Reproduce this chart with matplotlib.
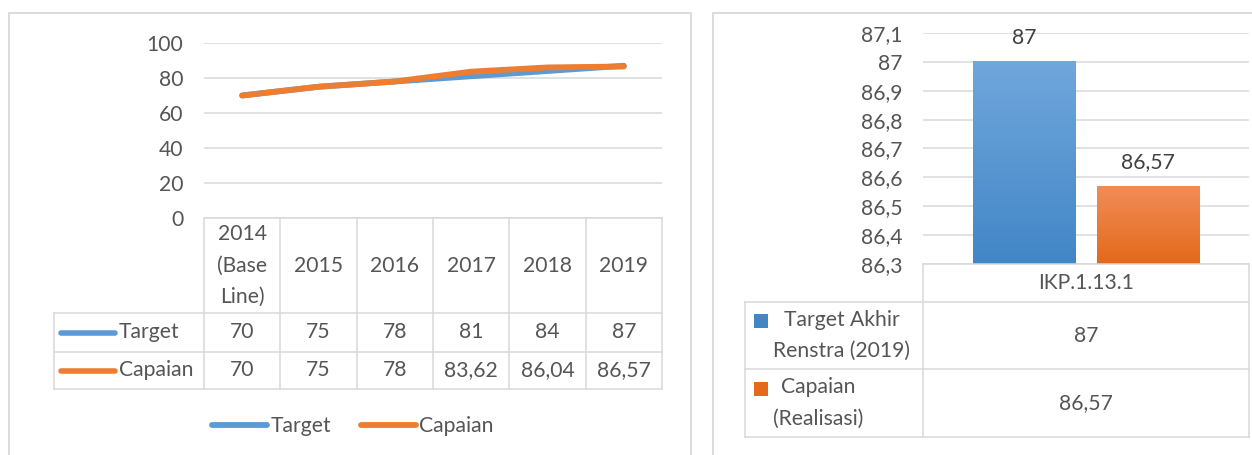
"""Target vs capaian: line chart with data table and IKP bar chart with data table."""

import numpy as np
import matplotlib
matplotlib.use('Agg')
import matplotlib.pyplot as plt
from matplotlib.lines import Line2D
from matplotlib.patches import Rectangle
from matplotlib.colors import LinearSegmentedColormap

# ---- data ----
years = ['2014\n(Base\nLine)', '2015', '2016', '2017', '2018', '2019']
target = [70, 75, 78, 81, 84, 87]
capaian = [70, 75, 78, 83.62, 86.04, 86.57]
line_names = ['Target', 'Capaian']
line_ticks = [0, 20, 40, 60, 80, 100]

ikp_category = 'IKP.1.13.1'
ikp_names = ['Target Akhir\nRenstra (2019)', 'Capaian\n(Realisasi)']
ikp_values = [87, 86.57]
ikp_ticks = [86.3, 86.4, 86.5, 86.6, 86.7, 86.8, 86.9, 87.0, 87.1]

# ---- style ----
W, H = 1252, 455
BLUE = '#5B9BD5'
ORANGE = '#ED7D31'
GRID = '#D9D9D9'
TXT = '#555555'
FS = 15.2
LS2 = 1.7  # line spacing for wrapped labels

plt.rcParams['font.family'] = ['Lato', 'DejaVu Sans']
plt.rcParams['text.color'] = TXT


def fx(px):
    return px / W


def fy(py):
    return 1 - py / H


def fmt(v):
    return f'{round(v, 2):g}'.replace('.', ',')


def hline(fig, x0, x1, y):
    fig.add_artist(Line2D([fx(x0), fx(x1)], [fy(y), fy(y)], color=GRID, lw=1.1))


def vline(fig, x, y0, y1):
    fig.add_artist(Line2D([fx(x), fx(x)], [fy(y0), fy(y1)], color=GRID, lw=1.1))


def style_axes(ax):
    for s in ax.spines.values():
        s.set_visible(False)
    ax.tick_params(length=0, labelsize=FS, labelcolor=TXT, pad=15)
    ax.set_xticks([])
    ax.yaxis.grid(True, color=GRID, lw=1.1)
    ax.set_axisbelow(True)


fig = plt.figure(figsize=(W / 100, H / 100), dpi=100)

# panel frames
fig.add_artist(Rectangle((fx(9), fy(480)), fx(691) - fx(9), fy(13) - fy(480),
                         fill=False, edgecolor=GRID, lw=1.3))
fig.add_artist(Rectangle((fx(713), fy(480)), fx(1280) - fx(713), fy(13) - fy(480),
                         fill=False, edgecolor=GRID, lw=1.3))

# ---- left: line chart ----
LX0, LX1, LY0, LY1 = 204, 662, 43, 218
ax1 = fig.add_axes([fx(LX0), fy(LY1), fx(LX1) - fx(LX0), fy(LY0) - fy(LY1)])
n = len(years)
xs = np.arange(n)
l1, = ax1.plot(xs, target, color=BLUE, lw=4.2, solid_capstyle='round', zorder=3)
l2, = ax1.plot(xs, capaian, color=ORANGE, lw=4.2, solid_capstyle='round', zorder=4)
ax1.set_xlim(-0.5, n - 0.5)
ax1.set_ylim(0, 100)
ax1.set_yticks(line_ticks)
style_axes(ax1)

# data table under line chart
col_w = (LX1 - LX0) / n
edges = [LX0 + i * col_w for i in range(n + 1)]
centers = [LX0 + (i + 0.5) * col_w for i in range(n)]
head_bot, row1_bot, row2_bot = 313, 352, 389
label_x0 = 54
for e in edges:
    vline(fig, e, LY1, row2_bot)
vline(fig, label_x0, head_bot, row2_bot)
hline(fig, LX0, LX1, LY1)
for yy in (head_bot, row1_bot, row2_bot):
    hline(fig, label_x0, LX1, yy)

for cx, yr in zip(centers, years):
    fig.text(fx(cx), fy((LY1 + head_bot) / 2), yr, ha='center', va='center',
             fontsize=FS, linespacing=LS2, multialignment='center')

row_centers = [(head_bot + row1_bot) / 2, (row1_bot + row2_bot) / 2]
for rc, name, vals, col in zip(row_centers, line_names, [target, capaian], [BLUE, ORANGE]):
    fig.add_artist(Line2D([fx(61), fx(115)], [fy(rc), fy(rc)], color=col, lw=4,
                          solid_capstyle='round'))
    fig.text(fx(119), fy(rc), name, ha='left', va='center', fontsize=FS)
    for cx, v in zip(centers, vals):
        fig.text(fx(cx), fy(rc), fmt(v), ha='center', va='center', fontsize=FS)

fig.legend([l1, l2], line_names, loc='center', bbox_to_anchor=(fx(353), fy(426)),
           ncol=2, frameon=False, fontsize=FS, labelcolor=TXT, handlelength=2.6,
           handletextpad=0.15, columnspacing=1.45, borderpad=0)

# ---- right: bar chart ----
RX0, RX1, RY0, RY1 = 923, 1249, 33, 264
ax2 = fig.add_axes([fx(RX0), fy(RY1), fx(RX1) - fx(RX0), fy(RY0) - fy(RY1)])
base = ikp_ticks[0]
offsets = [-0.19, 0.19]
bar_w = 0.313
bar_cols = [BLUE, ORANGE]
grad_cols = [('#4286C6', '#70A7DC'), ('#E4691A', '#F08D57')]
bars = ax2.bar(offsets, np.array(ikp_values) - base, bottom=base, width=bar_w,
               color=bar_cols, zorder=2)
grad = np.linspace(0, 1, 256).reshape(-1, 1)
for b, (c0, c1) in zip(bars, grad_cols):
    cm = LinearSegmentedColormap.from_list('g', [c0, c1])
    x0, y0 = b.get_x(), b.get_y()
    ax2.imshow(grad, extent=[x0, x0 + b.get_width(), y0, y0 + b.get_height()],
               origin='lower', aspect='auto', cmap=cm, zorder=2.5, clip_path=b)
for b, v in zip(bars, ikp_values):
    ax2.annotate(fmt(v), (b.get_x() + b.get_width() / 2, b.get_y() + b.get_height()),
                 xytext=(0, 17.5), textcoords='offset points', ha='center',
                 va='center', fontsize=FS, color='#404040')
ax2.set_xlim(-0.5, 0.5)
ax2.set_ylim(ikp_ticks[0], ikp_ticks[-1])
ax2.set_yticks(ikp_ticks)
ax2.set_yticklabels([fmt(t) for t in ikp_ticks])
style_axes(ax2)

# data table under bar chart
r_head_bot, r_row1_bot, r_row2_bot = 302, 369, 437
r_label_x0 = 745
vline(fig, RX0, RY1, r_row2_bot)
vline(fig, RX1, RY1, r_row2_bot)
vline(fig, r_label_x0, r_head_bot, r_row2_bot)
hline(fig, RX0, RX1, RY1)
for yy in (r_head_bot, r_row1_bot, r_row2_bot):
    hline(fig, r_label_x0, RX1, yy)
rcx = (RX0 + RX1) / 2
fig.text(fx(rcx), fy((RY1 + r_head_bot) / 2), ikp_category, ha='center', va='center',
         fontsize=FS)
r_rows = [(r_head_bot + r_row1_bot) / 2, (r_row1_bot + r_row2_bot) / 2]
for rc, name, v, (c0, c1) in zip(r_rows, ikp_names, ikp_values, grad_cols):
    fig.add_artist(Rectangle((fx(754), fy(rc - 7.5)), fx(14), 14 / H,
                             facecolor=c0, edgecolor='none'))
    fig.text(fx(773), fy(rc), name, ha='left', va='center', fontsize=FS,
             multialignment='center', linespacing=LS2)
    fig.text(fx(rcx), fy(rc), fmt(v), ha='center', va='center', fontsize=FS)

fig.savefig('out.png', dpi=100)
